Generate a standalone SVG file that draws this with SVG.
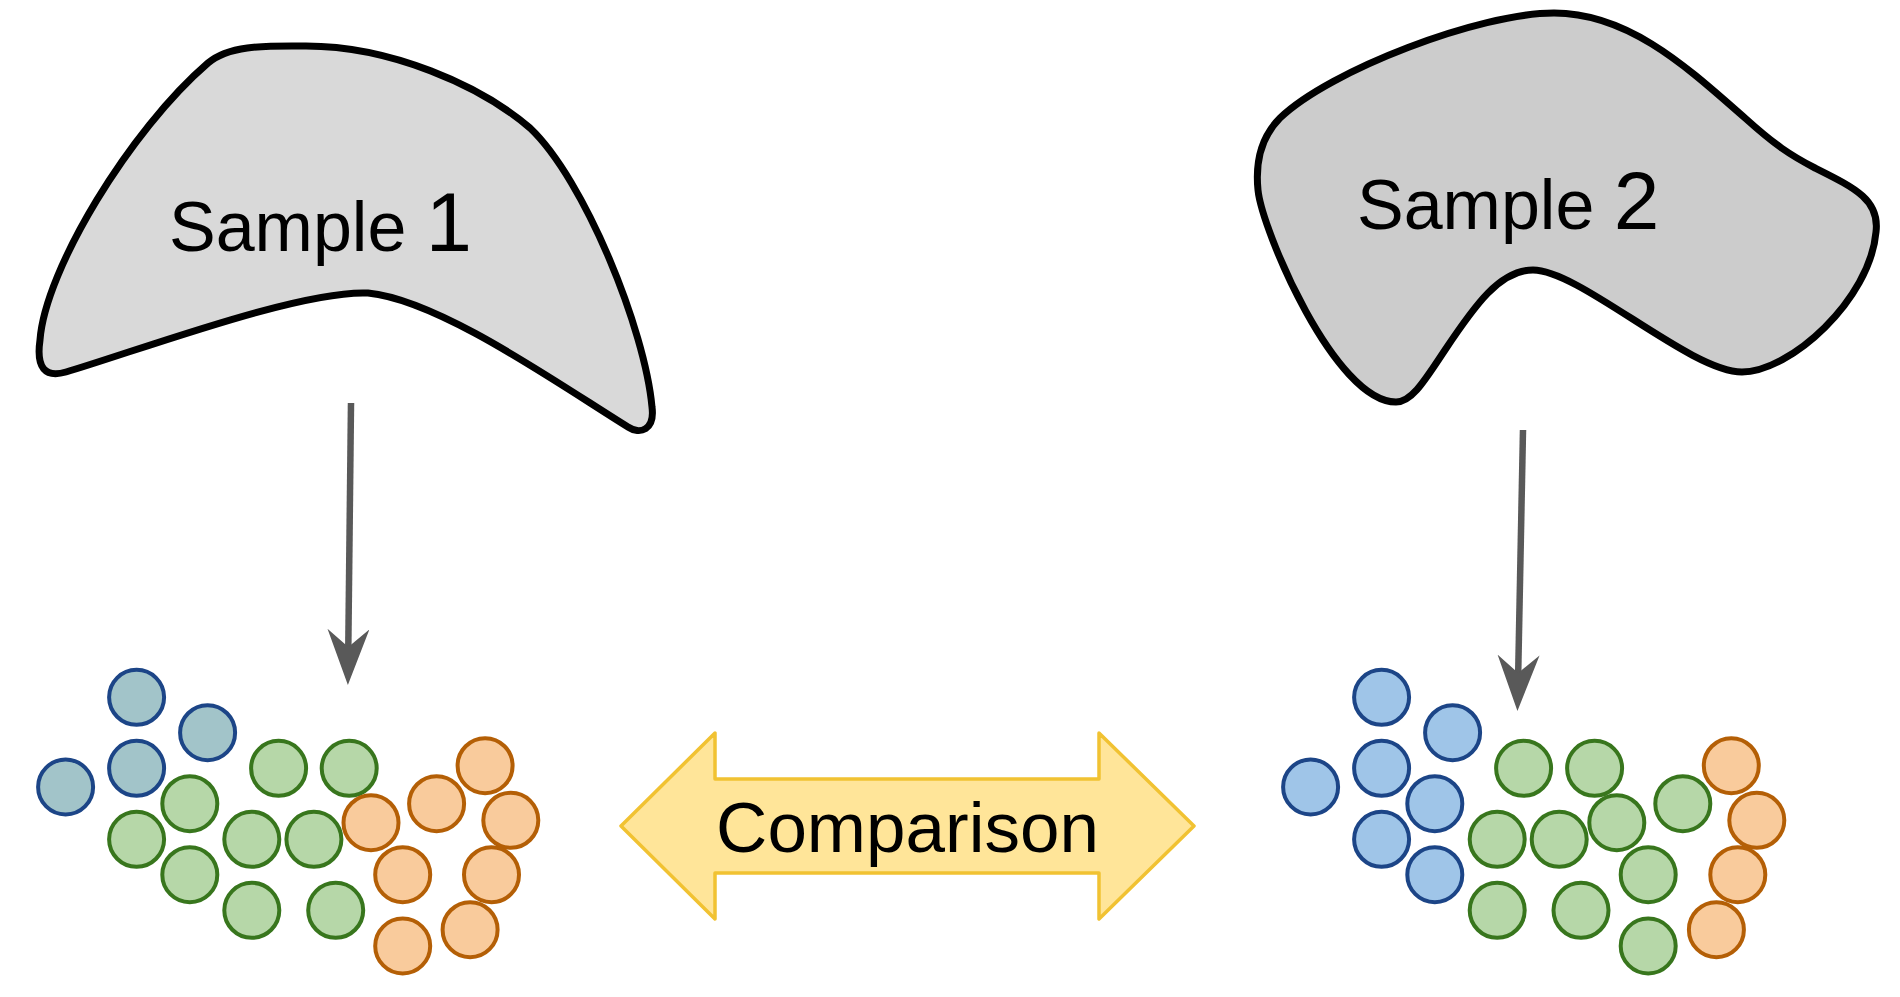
<svg xmlns="http://www.w3.org/2000/svg" width="1900" height="997" viewBox="0 0 1900 997">
<style>
text{font-family:"Liberation Sans",Arial,sans-serif;fill:#000}
.blob{stroke:#000;stroke-width:7;stroke-linejoin:round}
.cell{stroke-width:4}
.bt{fill:#a2c4c9;stroke:#1c4587}
.bl{fill:#9fc5e8;stroke:#1c4587}
.g{fill:#b6d7a8;stroke:#38761d}
.o{fill:#f9cb9c;stroke:#b45f06}
.conn{stroke:#595959;stroke-width:6.5;fill:none}
</style>
<defs>
<marker id="head" markerUnits="userSpaceOnUse" markerWidth="60" markerHeight="44" viewBox="0 0 60 44" refX="18" refY="21" orient="auto">
<path d="M0,0 L56,21 L0,42 L18,21 Z" fill="#595959"/>
</marker>
</defs>
<rect width="1900" height="997" fill="#fff"/>
<g id="sample1">
<path class="blob" fill="#d9d9d9" d="M306,46 C390,46 480,85 530,128 C585,180 645,330 652,407 C655,430 640,435 628,427 C560,385 440,300 368,293 C300,290 140,350 66,372 C45,378 36,368 40,340 C45,270 130,130 208,63 C230,44 270,46 306,46 Z"/>
<text x="169" y="251" font-size="70">Sample <tspan font-size="83">1</tspan></text>
</g>
<g id="sample2">
<path class="blob" fill="#cccccc" d="M1554,13 C1480,13 1330,70 1280,118 C1262,136 1255,160 1258,190 C1262,230 1335,402 1396,402 C1412,402 1425,380 1445,350 C1475,305 1500,270 1533,270 C1580,270 1690,372 1742,372 C1790,372 1870,300 1876,232 C1880,200 1855,188 1815,168 C1790,155 1775,145 1745,118 C1690,70 1630,13 1554,13 Z"/>
<text x="1357" y="229" font-size="70">Sample <tspan font-size="82">2</tspan></text>
</g>
<g id="cells1" class="cell">
<circle class="bt" cx="136.6" cy="697.3" r="27.5"/>
<circle class="bt" cx="207.6" cy="732.7" r="27.5"/>
<circle class="bt" cx="136.6" cy="768.3" r="27.5"/>
<circle class="bt" cx="65.6" cy="787" r="27.5"/>
<circle class="g" cx="278.6" cy="768.3" r="27.5"/>
<circle class="g" cx="349.2" cy="768.3" r="27.5"/>
<circle class="g" cx="189.8" cy="803.7" r="27.5"/>
<circle class="g" cx="136.6" cy="839.3" r="27.5"/>
<circle class="g" cx="251.8" cy="839.3" r="27.5"/>
<circle class="g" cx="313.9" cy="839.3" r="27.5"/>
<circle class="g" cx="189.8" cy="874.7" r="27.5"/>
<circle class="g" cx="251.8" cy="910.3" r="27.5"/>
<circle class="g" cx="335.7" cy="910.3" r="27.5"/>
<circle class="o" cx="485.1" cy="765.7" r="27.5"/>
<circle class="o" cx="436.6" cy="803.7" r="27.5"/>
<circle class="o" cx="510.8" cy="820.3" r="27.5"/>
<circle class="o" cx="371" cy="822.7" r="27.5"/>
<circle class="o" cx="402.7" cy="874.7" r="27.5"/>
<circle class="o" cx="491.5" cy="874.7" r="27.5"/>
<circle class="o" cx="470.1" cy="929.7" r="27.5"/>
<circle class="o" cx="402.7" cy="946" r="27.5"/>
</g>
<g id="cells2" class="cell" transform="translate(1245,0)">
<circle class="bl" cx="136.6" cy="697.3" r="27.5"/>
<circle class="bl" cx="207.6" cy="732.7" r="27.5"/>
<circle class="bl" cx="136.6" cy="768.3" r="27.5"/>
<circle class="bl" cx="65.6" cy="787" r="27.5"/>
<circle class="bl" cx="189.8" cy="803.7" r="27.5"/>
<circle class="bl" cx="136.6" cy="839.3" r="27.5"/>
<circle class="bl" cx="189.8" cy="874.7" r="27.5"/>
<circle class="g" cx="278.6" cy="768.3" r="27.5"/>
<circle class="g" cx="349.6" cy="768.3" r="27.5"/>
<circle class="g" cx="437.8" cy="803.7" r="27.5"/>
<circle class="g" cx="252.2" cy="839.3" r="27.5"/>
<circle class="g" cx="314.2" cy="839.3" r="27.5"/>
<circle class="g" cx="371.8" cy="822.7" r="27.5"/>
<circle class="g" cx="403.2" cy="874.7" r="27.5"/>
<circle class="g" cx="252.2" cy="910.3" r="27.5"/>
<circle class="g" cx="336" cy="910.3" r="27.5"/>
<circle class="g" cx="403.2" cy="946" r="27.5"/>
<circle class="o" cx="486.3" cy="765.7" r="27.5"/>
<circle class="o" cx="511.8" cy="820.3" r="27.5"/>
<circle class="o" cx="492.8" cy="874.7" r="27.5"/>
<circle class="o" cx="471.4" cy="929.7" r="27.5"/>
</g>
<g id="comparison">
<polygon points="621,826 715,733 715,779 1099,779 1099,733 1194,826 1099,919 1099,873 715,873 715,919" fill="#ffe599" stroke="#f1c232" stroke-width="3.5" stroke-linejoin="round"/>
<text x="907.5" y="852" font-size="71" text-anchor="middle">Comparison</text>
</g>
<g id="connectors">
<path class="conn" d="M351,403 L348.3,647" marker-end="url(#head)"/>
<path class="conn" d="M1523,430 L1518.2,673" marker-end="url(#head)"/>
</g>
</svg>
